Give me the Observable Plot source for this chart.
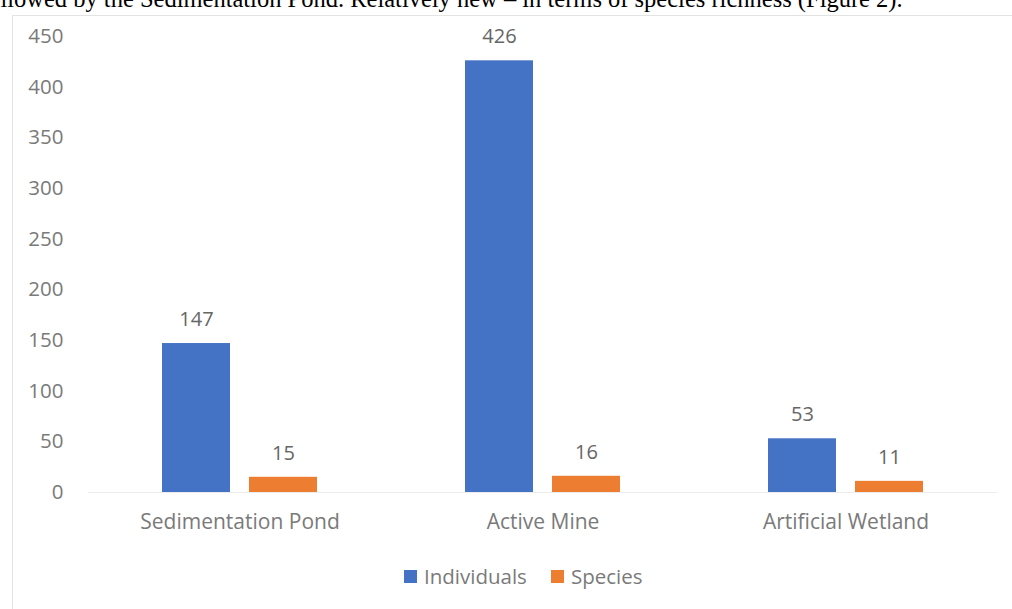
<!DOCTYPE html>
<html>
<head>
<meta charset="utf-8">
<script src="https://cdn.jsdelivr.net/npm/d3@7"></script>
<script src="https://cdn.jsdelivr.net/npm/@observablehq/plot@0.6"></script>
<style>
  html, body { margin: 0; padding: 0; background: #fff; overflow: hidden; width: 1012px; height: 609px; }
  #page { position: relative; width: 1012px; height: 609px; overflow: hidden; }
  #topline { position: absolute; left: -20px; top: -15px; font-family: "Liberation Serif", "DejaVu Serif", serif; font-size: 24.5px; line-height: 28px; color: #000; white-space: nowrap; }
  #frame { position: absolute; left: 12px; top: 15px; width: 1100px; height: 700px; border: 1px solid #e3e3e3; box-sizing: border-box; background: #fff; }
  #chart { position: absolute; left: 0; top: 0; }
  #legend { position: absolute; left: 404px; top: 562px; display: flex; align-items: center; font-family: "Open Sans", sans-serif; font-size: 20.5px; color: #7a7a7a; }
  .sw { width: 13px; height: 13px; display: inline-block; margin-right: 7px; }
  .item { display: flex; align-items: center; margin-right: 24px; }
</style>
</head>
<body>
<div id="page">
  <div id="topline">followed by the Sedimentation Pond. Relatively new – in terms of species richness (Figure 2).</div>
  <div id="frame"></div>
  <div id="chart"></div>
  <div id="legend"></div>
</div>
<script>
const sites = ["Sedimentation Pond", "Active Mine", "Artificial Wetland"];
const seriesNames = ["Individuals", "Species"];
const individuals = [147, 426, 53];
const species = [15, 16, 11];
const seriesColors = ["#4472C4", "#ED7D31"];
const yTicks = [0, 50, 100, 150, 200, 250, 300, 350, 400, 450];

const data = [];
sites.forEach((s, i) => {
  data.push({site: s, series: seriesNames[0], value: individuals[i]});
  data.push({site: s, series: seriesNames[1], value: species[i]});
});

const font = "'Open Sans', sans-serif";
const chart = Plot.plot({
  width: 1012,
  height: 560,
  marginLeft: 88,
  marginRight: 15,
  marginTop: 36,
  marginBottom: 68,
  style: {fontFamily: font, color: "#7a7a7a", background: "transparent"},
  fx: {domain: sites, padding: 0, label: null},
  x: {domain: seriesNames, paddingInner: 0.218, paddingOuter: 0.85, axis: null},
  y: {domain: [0, 450], label: null},
  color: {domain: seriesNames, range: seriesColors},
  marks: [
    Plot.axisY({ticks: yTicks, tickSize: 0, tickPadding: 25, fontSize: 20.5, label: null, fill: "#7a7a7a"}),
    Plot.axisFx({anchor: "bottom", tickSize: 0, tickPadding: 22, fontSize: 21, label: null, fill: "#7a7a7a"}),
    Plot.ruleY([0], {stroke: "#ececec", strokeWidth: 1.2}),
    Plot.barY(data, {fx: "site", x: "series", y: "value", fill: "series"}),
    Plot.text(data, {fx: "site", x: "series", y: "value", text: d => String(d.value), dy: -24, fontSize: 20, fill: "#666"})
  ]
});
document.getElementById("chart").appendChild(chart);

const legend = document.getElementById("legend");
seriesNames.forEach((n, i) => {
  const item = document.createElement("div");
  item.className = "item";
  const sw = document.createElement("span");
  sw.className = "sw";
  sw.style.background = seriesColors[i];
  item.appendChild(sw);
  item.appendChild(document.createTextNode(n));
  legend.appendChild(item);
});
</script>
</body>
</html>
